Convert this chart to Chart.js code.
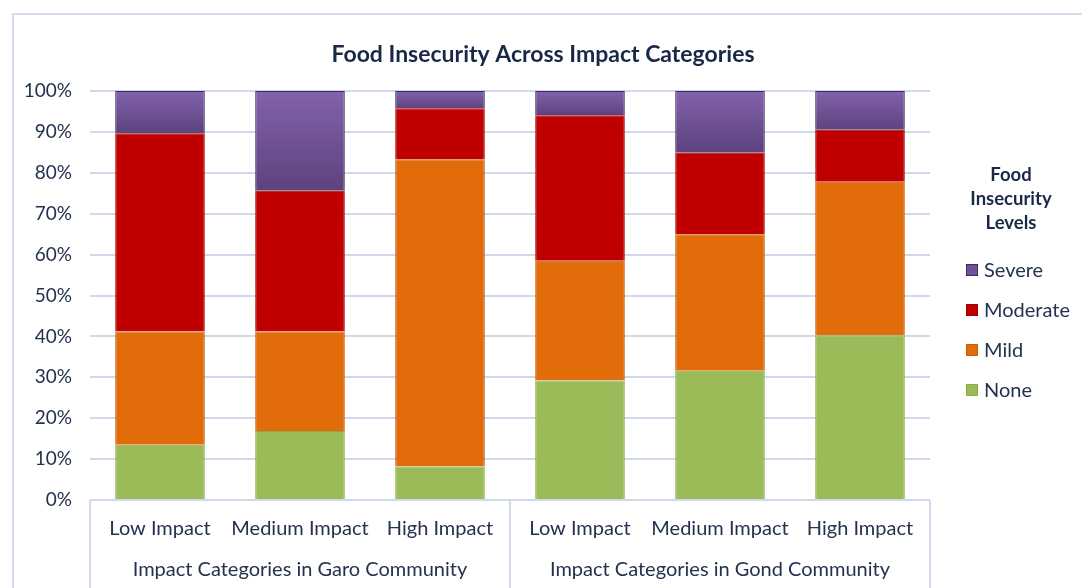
<!DOCTYPE html>
<html><head><meta charset="utf-8">
<script src="https://cdn.jsdelivr.net/npm/chart.js@4.4.1/dist/chart.umd.min.js"></script>
<style>html,body{margin:0;padding:0;background:#fff;}#wrap{width:1082px;height:588px;position:relative;}</style>
</head><body><div id="wrap"><canvas id="c" width="1082" height="588"></canvas></div>
<script>
const chartTitle = 'Food Insecurity Across Impact Categories';
const legendTitle = ['Food', 'Insecurity', 'Levels'];
const categories = ['Low Impact', 'Medium Impact', 'High Impact', 'Low Impact', 'Medium Impact', 'High Impact'];
const groups = ['Impact Categories in Garo Community', 'Impact Categories in Gond Community'];
const groupSizes = [3, 3];
const seriesNames = ['None', 'Mild', 'Moderate', 'Severe'];
const noneVals = [13.5, 16.9, 8.2, 29.2, 31.6, 40.3];
const mildVals = [27.7, 24.3, 75.1, 29.3, 33.4, 37.5];
const moderateVals = [48.5, 34.4, 12.5, 35.6, 19.9, 12.7];
const severeVals = [10.3, 24.4, 4.2, 5.9, 15.1, 9.5];
const yTickMax = 100, yTickStep = 10;

const FONT = 'Lato, "Open Sans", sans-serif';
const TXT = '#243250';
const TITLE = '#1a2848';
const GRID = '#cfd9ea';

function severeFill(ctx) {
  const chart = ctx.chart;
  if (!chart.chartArea || !chart.scales.y) return '#6f519a';
  const y = chart.scales.y;
  const i = ctx.dataIndex;
  const base = noneVals[i] + mildVals[i] + moderateVals[i];
  const top = y.getPixelForValue(base + severeVals[i]);
  const bot = y.getPixelForValue(base);
  if (!isFinite(top) || !isFinite(bot) || top === bot) return '#6f519a';
  const g = chart.ctx.createLinearGradient(0, top, 0, bot);
  g.addColorStop(0, '#8262ab');
  g.addColorStop(1, '#5d427d');
  return g;
}

const datasets = [
  {label: seriesNames[0], data: noneVals, backgroundColor: '#9bbb59', borderColor: '#8aab4a', legendColor: '#9bbb59'},
  {label: seriesNames[1], data: mildVals, backgroundColor: '#e36c0a', borderColor: '#c95c08', legendColor: '#e36c0a'},
  {label: seriesNames[2], data: moderateVals, backgroundColor: '#c00000', borderColor: '#a30000', legendColor: '#c00000'},
  {label: seriesNames[3], data: severeVals, backgroundColor: severeFill, borderColor: '#3e2a60', legendColor: '#6f519a'}
].map(d => Object.assign(d, {borderWidth: 1, barPercentage: 0.64, categoryPercentage: 1.0}));

const deco = {
  id: 'deco',
  beforeDraw(chart) {
    const c = chart.ctx;
    c.save();
    c.strokeStyle = '#d3dcea';
    c.lineWidth = 2;
    c.beginPath();
    c.moveTo(13, 600); c.lineTo(13, 14); c.lineTo(1090, 14);
    c.stroke();
    c.restore();
  },
  afterDraw(chart) {
    const c = chart.ctx;
    const x = chart.scales.x;
    const a = chart.chartArea;
    c.save();
    c.fillStyle = TITLE;
    c.font = 'bold 23px ' + FONT;
    c.textAlign = 'center';
    c.textBaseline = 'middle';
    c.fillText(chartTitle, (a.left + a.right) / 2 + 33, 55);
    c.strokeStyle = GRID;
    c.lineWidth = 2;
    c.beginPath();
    c.moveTo(a.left, a.bottom); c.lineTo(a.right, a.bottom);
    const step = (x.right - x.left) / categories.length;
    let idx = 0;
    const bounds = [x.left];
    groupSizes.forEach(n => { idx += n; bounds.push(x.left + step * idx); });
    bounds.forEach(bx => { c.moveTo(bx, a.bottom); c.lineTo(bx, 600); });
    c.stroke();
    c.fillStyle = TXT;
    c.font = '20px ' + FONT;
    groups.forEach((g, k) => {
      c.fillText(g, (bounds[k] + bounds[k + 1]) / 2, 570);
    });
    c.fillStyle = TITLE;
    c.font = 'bold 18.5px ' + FONT;
    legendTitle.forEach((t, k) => c.fillText(t, 1011, 175 + k * 24));
    const items = chart.data.datasets.slice().reverse();
    items.forEach((d, k) => {
      const yy = 270 + k * 40;
      c.fillStyle = d.legendColor;
      c.fillRect(966, yy - 6, 12, 12);
      c.strokeStyle = d.borderColor;
      c.lineWidth = 1;
      c.strokeRect(966.5, yy - 5.5, 11, 11);
      c.fillStyle = TXT;
      c.textAlign = 'left';
      c.font = '20px ' + FONT;
      c.fillText(d.label, 984, yy + 1);
    });
    c.restore();
  }
};

new Chart(document.getElementById('c'), {
  type: 'bar',
  data: {labels: categories, datasets},
  options: {
    responsive: false,
    animation: false,
    layout: {padding: {top: 91, right: 152, left: 0, bottom: 0}},
    plugins: {legend: {display: false}, title: {display: false}, tooltip: {enabled: false}},
    scales: {
      x: {
        stacked: true,
        grid: {display: false, drawTicks: false},
        border: {display: false},
        ticks: {color: TXT, font: {family: FONT, size: 20}, padding: 17, maxRotation: 0, autoSkip: false},
        afterFit(s) { s.height = 88; }
      },
      y: {
        stacked: true,
        min: 0, max: yTickMax,
        grid: {color: GRID, lineWidth: 2, drawTicks: false},
        border: {display: false},
        ticks: {stepSize: yTickStep, color: TXT, font: {family: FONT, size: 19}, padding: 18, callback: v => v + '%'},
        afterFit(s) { s.width = 90; }
      }
    }
  },
  plugins: [deco]
});
</script></body></html>
